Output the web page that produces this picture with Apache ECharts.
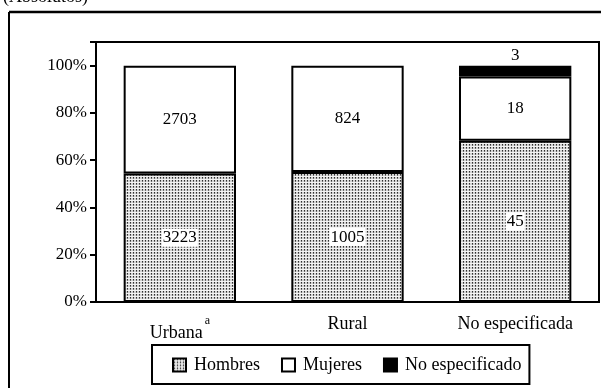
<!DOCTYPE html>
<html>
<head>
<meta charset="utf-8">
<script src="https://cdn.jsdelivr.net/npm/echarts@6/dist/echarts.min.js"></script>
<style>html,body{margin:0;padding:0;background:#fff;}#c{width:601px;height:388px;}</style>
</head>
<body>
<div id="c"></div>
<script>
const categories = ['Urbana', 'Rural', 'No especificada'];
const hombres = [3223, 1005, 45];
const mujeres = [2703, 824, 18];
const noEspecificado = [0, 0, 3];
const yTicks = [0, 20, 40, 60, 80, 100];
const seriesNames = ['Hombres', 'Mujeres', 'No especificado'];

const totals = categories.map((c, i) => hombres[i] + mujeres[i] + noEspecificado[i]);
const pct = arr => arr.map((v, i) => v === 0 ? { value: null, raw: v } : { value: v / totals[i] * 100, raw: v });

// dotted pattern
const pc = document.createElement('canvas');
pc.width = 3; pc.height = 3;
const px = pc.getContext('2d');
px.fillStyle = '#d4d4d4'; px.fillRect(0, 0, 3, 3);
px.fillStyle = '#f4f4f4'; px.fillRect(0, 2, 3, 1);
px.fillStyle = '#303030'; px.fillRect(1, 0, 1, 1);
px.fillStyle = '#707070'; px.fillRect(1, 1, 1, 1);
const pattern = { image: pc, repeat: 'repeat' };

const FONT = 'Liberation Serif';
const FS = 17;
const FX = 18;
const chart = echarts.init(document.getElementById('c'), null, { renderer: 'canvas' });

chart.setOption({
  animation: false,
  textStyle: { fontFamily: FONT, color: '#000' },
  graphic: [
    { type: 'line', shape: { x1: 9, y1: 12, x2: 601, y2: 12 }, style: { stroke: '#000', lineWidth: 2.5 } },
    { type: 'line', shape: { x1: 9, y1: 12, x2: 9, y2: 388 }, style: { stroke: '#000', lineWidth: 2 } },
    { type: 'text', left: 3, top: -12, style: { text: '(Absolutos)', font: '18px "Liberation Serif"', fill: '#000' } }
  ],
  grid: { left: 96, right: 2, top: 42, bottom: 86, show: true, borderColor: '#000', borderWidth: 2, backgroundColor: 'transparent' },
  legend: {
    left: 152, top: 345,
    padding: [11, 8, 10, 20],
    borderColor: '#000', borderWidth: 2,
    icon: 'rect',
    itemWidth: 13, itemHeight: 13, itemGap: 21,
    textStyle: { fontFamily: FONT, fontSize: FX, color: '#000', padding: [0, 0, 0, 3] },
    data: seriesNames
  },
  xAxis: {
    type: 'category', data: categories,
    axisLine: { lineStyle: { color: '#000', width: 2 } },
    axisTick: { length: 6, lineStyle: { color: '#000', width: 2 } },
    axisLabel: {
      interval: 0, margin: 13, fontFamily: FONT, fontSize: FX, color: '#000',
      formatter: v => v === 'Urbana' ? '{m|Urbana}{s|a}' : '{m|' + v + '}',
      rich: {
        m: { fontFamily: FONT, fontSize: FX, color: '#000', verticalAlign: 'bottom' },
        s: { fontFamily: FONT, fontSize: 12, color: '#000', verticalAlign: 'bottom', padding: [0, 0, 15, 2] }
      }
    }
  },
  yAxis: {
    type: 'value', min: 0, max: 110, interval: 20,
    axisLine: { show: true, lineStyle: { color: '#000', width: 2 } },
    axisTick: { show: true, length: 6, lineStyle: { color: '#000', width: 2 } },
    splitLine: { show: false },
    axisLabel: { margin: 9, fontFamily: FONT, fontSize: FS, color: '#000', formatter: v => yTicks.includes(v) ? v + '%' : '' }
  },
  series: [
    {
      name: seriesNames[0], type: 'bar', stack: 's', barWidth: '67%', data: pct(hombres),
      itemStyle: { color: pattern, borderColor: '#000', borderWidth: 2 },
      label: { show: true, position: 'inside', fontFamily: FONT, fontSize: FS, color: '#000', backgroundColor: '#fff', padding: [1, 1, 0, 1], formatter: p => p.data.raw }
    },
    {
      name: seriesNames[1], type: 'bar', stack: 's', data: pct(mujeres),
      itemStyle: { color: '#fff', borderColor: '#000', borderWidth: 2 },
      label: { show: true, position: 'inside', fontFamily: FONT, fontSize: FS, color: '#000', formatter: p => p.data.raw }
    },
    {
      name: seriesNames[2], type: 'bar', stack: 's', data: pct(noEspecificado),
      itemStyle: { color: '#000', borderColor: '#000', borderWidth: 2 },
      label: { show: true, position: 'top', distance: 2, fontFamily: FONT, fontSize: FS, color: '#000', formatter: p => p.data.raw }
    }
  ]
});
</script>
</body>
</html>
